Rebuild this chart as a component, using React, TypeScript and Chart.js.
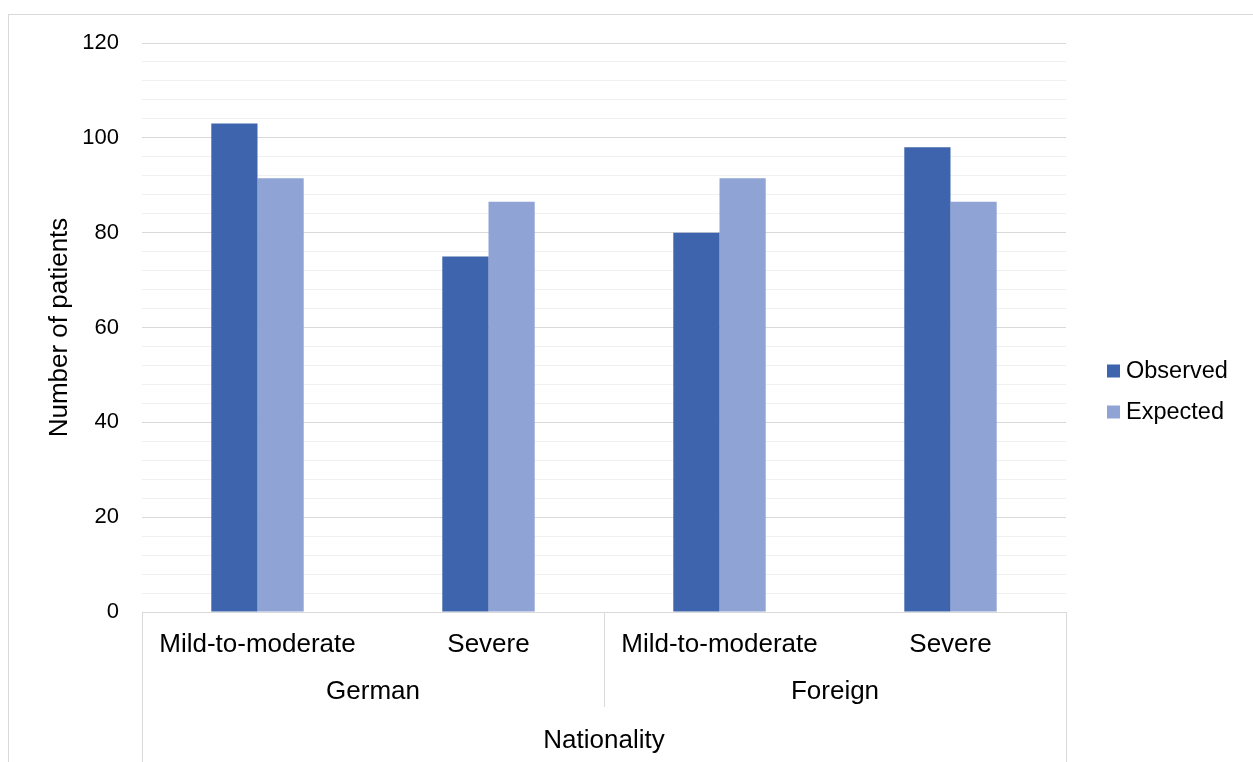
import React, { useEffect, useRef } from 'react';
import { Chart, registerables } from 'chart.js';

Chart.register(...registerables);

// ---- data ----
const categories = ['Mild-to-moderate', 'Severe', 'Mild-to-moderate', 'Severe'];
const groups = ['German', 'Foreign'];
const seriesNames = ['Observed', 'Expected'];
const observed = [103, 75, 80, 98];
const expected = [91.5, 86.5, 91.5, 86.5];
const yMin = 0;
const yMax = 120;
const yMajorStep = 20;
const yMinorStep = 4;
const yTitle = 'Number of patients';
const xTitle = 'Nationality';

// ---- style ----
const FONT = "'Liberation Sans', Arial, Helvetica, sans-serif";
const TICK_SIZE = 22;
const LABEL_SIZE = 26;
const LEGEND_SIZE = 23.5;
const TEXT = '#000000';
const COLORS = ['#3D64AC', '#8FA4D4'];
const MAJOR = '#d9d9d9';
const MINOR = '#f0f0f0';
const FRAME = '#d9d9d9';

const W = 1253;
const H = 762;

const decorPlugin = {
  id: 'decor',
  beforeDraw(chart: any) {
    const ctx = chart.ctx;
    ctx.save();
    ctx.strokeStyle = FRAME;
    ctx.lineWidth = 1;
    ctx.strokeRect(8.5, 14.5, W + 20, H + 20);
    ctx.restore();
  },
  afterDraw(chart: any) {
    const ctx = chart.ctx;
    const area = chart.chartArea;
    const xs = chart.scales.x;
    const x2 = chart.scales.x2;
    ctx.save();
    ctx.strokeStyle = MAJOR;
    ctx.lineWidth = 1;
    // axis line
    ctx.beginPath();
    ctx.moveTo(area.left, Math.round(area.bottom) + 0.5);
    ctx.lineTo(area.right, Math.round(area.bottom) + 0.5);
    ctx.stroke();
    // outer separators
    const bottom = chart.height;
    [area.left, area.right].forEach((px: number) => {
      ctx.beginPath();
      ctx.moveTo(Math.round(px) + 0.5, area.bottom);
      ctx.lineTo(Math.round(px) + 0.5, bottom);
      ctx.stroke();
    });
    // group separator
    const per = categories.length / groups.length;
    for (let g = 1; g < groups.length; g++) {
      const px = (xs.getPixelForValue(g * per - 1) + xs.getPixelForValue(g * per)) / 2;
      ctx.beginPath();
      ctx.moveTo(Math.round(px) + 0.5, area.bottom);
      ctx.lineTo(Math.round(px) + 0.5, x2.bottom - 55);
      ctx.stroke();
    }
    // legend
    ctx.font = `${LEGEND_SIZE}px ${FONT}`;
    ctx.textBaseline = 'middle';
    ctx.textAlign = 'left';
    const lx = area.right + 41;
    const ly0 = 371;
    chart.data.datasets.forEach((ds: any, i: number) => {
      const cy = ly0 + i * 41;
      ctx.fillStyle = ds.backgroundColor;
      ctx.fillRect(lx, cy - 6.5, 13, 13);
      ctx.fillStyle = TEXT;
      ctx.fillText(ds.label, lx + 19, cy + 1);
    });
    ctx.restore();
  },
};

export default function App() {
  const ref = useRef<HTMLCanvasElement | null>(null);

  useEffect(() => {
    if (!ref.current) return;
    const tickFont = { family: FONT, size: TICK_SIZE };
    const labelFont = { family: FONT, size: LABEL_SIZE };
    const chart = new Chart(ref.current, {
      type: 'bar',
      data: {
        labels: categories,
        datasets: [
          { label: seriesNames[0], data: observed, backgroundColor: COLORS[0] },
          { label: seriesNames[1], data: expected, backgroundColor: COLORS[1] },
        ],
      },
      options: {
        animation: false,
        responsive: true,
        maintainAspectRatio: false,
        layout: { padding: { left: 8, top: 43, right: 187, bottom: 0 } },
        datasets: { bar: { categoryPercentage: 0.4, barPercentage: 1.0 } },
        plugins: { legend: { display: false }, tooltip: { enabled: false } },
        scales: {
          x: {
            type: 'category',
            position: 'bottom',
            weight: 0,
            offset: true,
            grid: { display: false, drawTicks: false },
            border: { display: false },
            ticks: { color: TEXT, font: labelFont, padding: 17, maxRotation: 0, autoSkip: false },
            afterFit: (s: any) => { s.height = 47; },
          },
          x2: {
            type: 'category',
            position: 'bottom',
            weight: 1,
            labels: groups,
            offset: true,
            grid: { display: false, drawTicks: false },
            border: { display: false },
            ticks: { color: TEXT, font: labelFont, padding: 17, maxRotation: 0, autoSkip: false },
            title: { display: true, text: xTitle, color: TEXT, font: labelFont, padding: { top: 0, bottom: 6 } },
            afterFit: (s: any) => { s.height = 103; },
          },
          y: {
            type: 'linear',
            min: yMin,
            max: yMax,
            border: { display: false },
            grid: {
              drawTicks: false,
              color: (c: any) => (c.tick && c.tick.value % yMajorStep === 0 ? MAJOR : MINOR),
              lineWidth: 1,
            },
            ticks: {
              stepSize: yMinorStep,
              autoSkip: false,
              color: TEXT,
              font: tickFont,
              padding: 23,
              callback: (v: any) => (Number(v) % yMajorStep === 0 ? String(v) : ''),
            },
            title: { display: true, text: yTitle, color: TEXT, font: labelFont, padding: { top: 36, bottom: 0 } },
            afterFit: (s: any) => { s.width = 134; },
          },
        },
      },
      plugins: [decorPlugin],
    } as any);
    return () => chart.destroy();
  }, []);

  return (
    <div style={{ position: 'fixed', left: 0, top: 0, width: W, height: H, background: '#fff' }}>
      <canvas ref={ref} />
    </div>
  );
}
